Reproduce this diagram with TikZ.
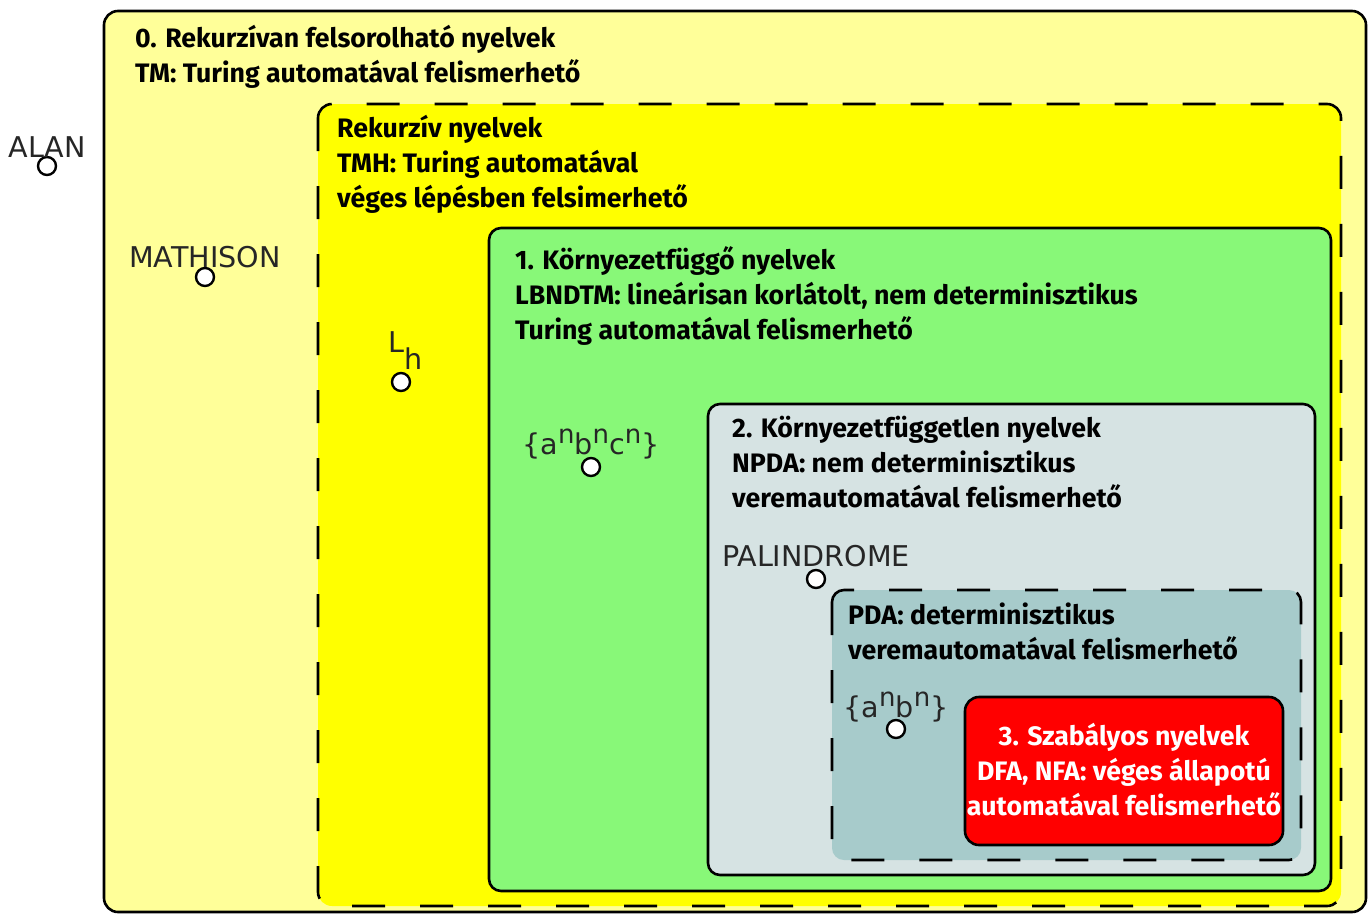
\documentclass[tikz,border=0pt]{standalone}
\usepackage{fontspec}
\setmainfont{Fira Sans}
\newfontfamily\lblfont{DejaVu Sans}
\usepackage{xcolor}
\usepackage{tikz}
\usetikzlibrary{positioning}

\definecolor{reyellow}{RGB}{255,255,153}
\definecolor{recyellow}{RGB}{255,255,0}
\definecolor{csgreen}{RGB}{136,248,120}
\definecolor{cfgray}{RGB}{214,227,227}
\definecolor{dcfteal}{RGB}{167,203,203}
\definecolor{regred}{RGB}{255,0,0}

\begin{document}
\begin{tikzpicture}[x=1pt,y=-1pt]
      \tikzset{lang/.style={draw=black,line width=2.6pt,rounded corners=14pt}}
      \tikzset{dashlang/.style={lang,dash pattern=on 33pt off 35pt}}
      \tikzset{title/.style={anchor=base west,align=left,inner sep=0pt,font=\fontsize{26.7}{35}\selectfont\bfseries}}
      \tikzset{word/.style={circle,draw=black,fill=white,line width=2.4pt,minimum size=18pt,inner sep=0pt}}
      \tikzset{lbl/.style={inner sep=0pt,anchor=base,font=\fontsize{28.6}{28.6}\selectfont\lblfont,text=black!85}}
      \def\hi#1{\raisebox{.4em}{\fontsize{26}{26}\selectfont #1}}
      \def\lo#1{\raisebox{-.6em}{\fontsize{28.6}{28.6}\selectfont #1}}

      \useasboundingbox (0,0) rectangle (1371,914);

      \draw[lang,fill=reyellow] (104,11) rectangle (1366,912);
      \draw[dashlang,fill=recyellow] (318,104) rectangle (1341,906);
      \draw[lang,fill=csgreen,rounded corners=12pt] (489,228) rectangle (1331,891);
      \draw[lang,fill=cfgray,rounded corners=12pt] (708,404) rectangle (1315,875);
      \draw[dashlang,fill=dcfteal,rounded corners=12pt] (832,590) rectangle (1301,860);
      \draw[lang,fill=regred,rounded corners=14pt] (965,697) rectangle (1283,845);

      \node[title] (re) at (135,82) {0. Rekurzívan felsorolható nyelvek\\TM: Turing automatával felismerhető};
      \node[title] (rec) at (337,207) {Rekurzív nyelvek\\TMH: Turing automatával\\véges lépésben felsimerhető};
      \node[title] (cs) at (515,339) {1. Környezetfüggő nyelvek\\LBNDTM: lineárisan korlátolt, nem determinisztikus\\Turing automatával felismerhető};
      \node[title] (cf) at (732,507) {2. Környezetfüggetlen nyelvek\\NPDA: nem determinisztikus\\veremautomatával felismerhető};
      \node[title] (dcf) at (848,659) {PDA: determinisztikus\\veremautomatával felismerhető};
      \node[title,anchor=base,align=center,text=white] (reg) at (1124,815) {3. Szabályos nyelvek\\DFA, NFA: véges állapotú\\automatával felismerhető};

      \node[word] (alan) at (47,166) {};
      \node[word] (mathison) at (205,277) {};
      \node[word] (lh) at (401,382) {};
      \node[word] (abc) at (591,467) {};
      \node[word] (pal) at (816,579) {};
      \node[word] (ab) at (896,729) {};

      \node[lbl,above=-2pt of alan,anchor=base] (alant) {ALAN};
      \node[lbl,above=-1pt of mathison,anchor=base] (mathisont) {MATHISON};
      \node[lbl,above=19pt of lh,anchor=base,xshift=5pt] (lht) {L\lo{h}};
      \node[lbl,above=2pt of abc,anchor=base] (abct) {\{a\hi{n}b\hi{n}c\hi{n}\}};
      \node[lbl,above=2pt of pal,anchor=base] (palt) {PALINDROME};
      \node[lbl,above=1pt of ab,anchor=base] (abt) {\{a\hi{n}b\hi{n}\}};
\end{tikzpicture}
\end{document}
